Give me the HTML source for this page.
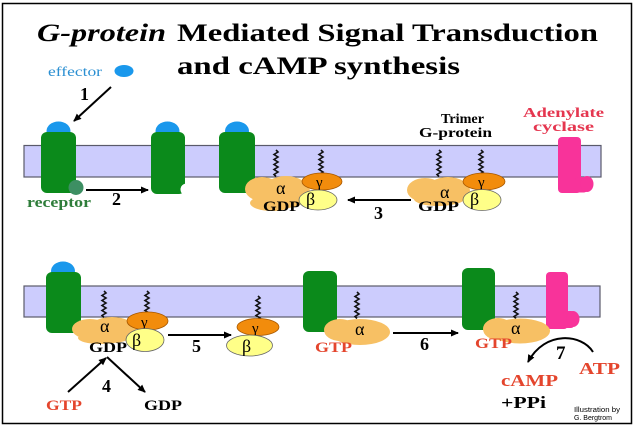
<!DOCTYPE html>
<html><head><meta charset="utf-8"><style>
html,body{margin:0;padding:0;background:#fff;}
svg{display:block;}
text{font-family:"Liberation Serif","DejaVu Serif",serif;}
</style></head><body>
<svg width="636" height="429" viewBox="0 0 636 429" xmlns="http://www.w3.org/2000/svg" font-family="Liberation Serif, serif">
<defs>
<marker id="ah" markerWidth="8" markerHeight="8" refX="7" refY="4" orient="auto" markerUnits="userSpaceOnUse">
<path d="M0,0.5 L8,4 L0,7.5 Z" fill="#000"/>
</marker>
<path id="wv" d="M0 0 l2 2 l-4 2.5 l4 2.5 l-4 2.5 l4 2.5 l-4 2.5 l4 2.5 l-4 2.5 l4 2.5 l-4 2.5 l2 2" fill="none" stroke="#111" stroke-width="1.6"/>
</defs>
<rect x="0" y="0" width="636" height="429" fill="#fff"/>
<rect x="2.5" y="3.5" width="629" height="420" fill="none" stroke="#000" stroke-width="1.5"/>

<!-- Title -->
<text x="37" y="41" font-size="25" font-weight="bold" font-style="italic" textLength="129" lengthAdjust="spacingAndGlyphs">G-protein</text>
<text x="177" y="41" font-size="25" font-weight="bold" textLength="421" lengthAdjust="spacingAndGlyphs">Mediated Signal Transduction</text>
<text x="177" y="74" font-size="25" font-weight="bold" textLength="283" lengthAdjust="spacingAndGlyphs">and cAMP synthesis</text>

<!-- effector -->
<text x="48" y="76" font-size="14" fill="#2a8fd2" textLength="54" lengthAdjust="spacingAndGlyphs">effector</text>
<ellipse cx="124" cy="71" rx="9.5" ry="6" fill="#1a98ec"/>
<line x1="111" y1="87" x2="74" y2="121" stroke="#000" stroke-width="2" marker-end="url(#ah)"/>
<text x="80" y="100" font-size="18" font-weight="bold">1</text>

<!-- Membranes -->
<rect x="24" y="145.5" width="577" height="31.5" fill="#ccccfd" stroke="#5a5a6a" stroke-width="1.2"/>
<rect x="24" y="286" width="576" height="31" fill="#ccccfd" stroke="#5a5a6a" stroke-width="1.2"/>

<!-- wavy anchors top -->
<use href="#wv" x="276" y="150"/>
<use href="#wv" x="321" y="150"/>
<use href="#wv" x="439" y="150"/>
<use href="#wv" x="481" y="150"/>
<!-- wavy anchors bottom -->
<use href="#wv" x="104" y="291"/>
<use href="#wv" x="147" y="291"/>
<use href="#wv" x="258" y="296"/>
<use href="#wv" x="357" y="292"/>
<use href="#wv" x="516" y="292"/>

<!-- Top receptors -->
<ellipse cx="58.5" cy="131" rx="12" ry="9.5" fill="#1a98ec"/>
<rect x="41" y="132" width="35" height="61" rx="6" fill="#0b8a1b"/>
<circle cx="76" cy="187.5" r="7.5" fill="#3d8f63"/>
<text x="27" y="207" font-size="15" font-weight="bold" fill="#2e7d3a" textLength="64" lengthAdjust="spacingAndGlyphs">receptor</text>
<line x1="86" y1="190" x2="148" y2="190" stroke="#000" stroke-width="2" marker-end="url(#ah)"/>
<text x="112" y="205" font-size="18" font-weight="bold">2</text>

<ellipse cx="167.5" cy="131" rx="12" ry="9.5" fill="#1a98ec"/>
<rect x="151" y="132" width="34" height="62" rx="6" fill="#0b8a1b"/>
<circle cx="186.5" cy="189.5" r="6" fill="#fff"/>

<ellipse cx="237" cy="131" rx="12" ry="9.5" fill="#1a98ec"/>
<rect x="219" y="132" width="36" height="61" rx="6" fill="#0b8a1b"/>

<!-- Complex A -->
<g fill="#f7c064">
<ellipse cx="262" cy="189" rx="17" ry="12"/>
<ellipse cx="286" cy="192" rx="24" ry="16"/>
<ellipse cx="272" cy="203" rx="22" ry="8"/>
</g>
<text x="276" y="194" font-size="18">α</text>
<text x="263" y="211" font-size="15" font-weight="bold" textLength="37" lengthAdjust="spacingAndGlyphs">GDP</text>
<ellipse cx="322" cy="181.5" rx="20" ry="8.5" fill="#f28c0c" stroke="#a85800" stroke-width="0.8"/>
<text x="316" y="187" font-size="15">γ</text>
<ellipse cx="318" cy="200" rx="19" ry="10" fill="#ffff88" stroke="#666" stroke-width="0.8"/>
<text x="306" y="205" font-size="18">β</text>

<!-- arrow 3 -->
<line x1="411" y1="200" x2="348" y2="200" stroke="#000" stroke-width="2" marker-end="url(#ah)"/>
<text x="374" y="219" font-size="18" font-weight="bold">3</text>

<!-- Trimer label -->
<text x="441" y="123" font-size="14" font-weight="bold" textLength="43" lengthAdjust="spacingAndGlyphs">Trimer</text>
<text x="419" y="137" font-size="14" font-weight="bold" textLength="73" lengthAdjust="spacingAndGlyphs">G-protein</text>

<!-- Complex B -->
<g fill="#f7c064">
<ellipse cx="425" cy="190" rx="18" ry="12"/>
<ellipse cx="448" cy="191" rx="22" ry="14"/>
<ellipse cx="438" cy="199" rx="24" ry="7"/>
</g>
<text x="440" y="198" font-size="18">α</text>
<text x="418" y="211" font-size="15" font-weight="bold" textLength="41" lengthAdjust="spacingAndGlyphs">GDP</text>
<ellipse cx="484" cy="181.5" rx="21" ry="8.5" fill="#f28c0c" stroke="#a85800" stroke-width="0.8"/>
<text x="478" y="187" font-size="15">γ</text>
<ellipse cx="482" cy="200" rx="19" ry="10.5" fill="#ffff88" stroke="#666" stroke-width="0.8"/>
<text x="470" y="205" font-size="18">β</text>

<!-- Adenylate cyclase top -->
<text x="523" y="117" font-size="14" font-weight="bold" fill="#e5364f" textLength="81" lengthAdjust="spacingAndGlyphs">Adenylate</text>
<text x="533" y="131" font-size="14" font-weight="bold" fill="#e5364f" textLength="61" lengthAdjust="spacingAndGlyphs">cyclase</text>
<g fill="#f8339a">
<rect x="558" y="137" width="23" height="56" rx="4"/>
<rect x="575" y="177" width="12" height="15.5" rx="3"/>
<ellipse cx="587" cy="184" rx="6.5" ry="8"/>
</g>

<!-- Bottom row receptor R4 -->
<ellipse cx="63" cy="271" rx="12" ry="9.5" fill="#1a98ec"/>
<rect x="46" y="272" width="35" height="61" rx="6" fill="#0b8a1b"/>

<!-- Complex C -->
<g fill="#f7c064">
<ellipse cx="90" cy="329" rx="18" ry="10"/>
<ellipse cx="112" cy="330" rx="24" ry="13"/>
<ellipse cx="100" cy="338" rx="22" ry="6"/>
</g>
<text x="100" y="332" font-size="18">α</text>
<text x="89" y="352" font-size="15" font-weight="bold" textLength="38" lengthAdjust="spacingAndGlyphs">GDP</text>
<ellipse cx="147.5" cy="321" rx="20.5" ry="9" fill="#f28c0c" stroke="#a85800" stroke-width="0.8"/>
<text x="141" y="327" font-size="15">γ</text>
<ellipse cx="145" cy="340" rx="19" ry="11.5" fill="#ffff88" stroke="#666" stroke-width="0.8"/>
<text x="132" y="346" font-size="18">β</text>

<!-- arrow 4 -->
<line x1="68" y1="392" x2="106" y2="358" stroke="#000" stroke-width="2" marker-end="url(#ah)"/>
<line x1="107" y1="357" x2="145" y2="392" stroke="#000" stroke-width="2" marker-end="url(#ah)"/>
<text x="102" y="392" font-size="18" font-weight="bold">4</text>
<text x="46" y="410" font-size="15" font-weight="bold" fill="#e4452d" textLength="36" lengthAdjust="spacingAndGlyphs">GTP</text>
<text x="144" y="410" font-size="15" font-weight="bold" textLength="38" lengthAdjust="spacingAndGlyphs">GDP</text>

<!-- arrow 5 -->
<line x1="168" y1="335" x2="231" y2="335" stroke="#000" stroke-width="2" marker-end="url(#ah)"/>
<text x="192" y="352" font-size="18" font-weight="bold">5</text>

<!-- dimer D -->
<ellipse cx="258" cy="327" rx="21" ry="8.5" fill="#f28c0c" stroke="#a85800" stroke-width="0.8"/>
<text x="252" y="333" font-size="15">γ</text>
<ellipse cx="249.5" cy="345.5" rx="23" ry="10.5" fill="#ffff88" stroke="#666" stroke-width="0.8"/>
<text x="242" y="352" font-size="18">β</text>

<!-- R5 -->
<rect x="303" y="271" width="34" height="61" rx="6" fill="#0b8a1b"/>
<g fill="#f7c064">
<ellipse cx="340" cy="330" rx="16" ry="11"/>
<ellipse cx="360" cy="332" rx="30" ry="13"/>
</g>
<text x="355" y="335" font-size="18">α</text>
<text x="315" y="352" font-size="15" font-weight="bold" fill="#e4452d" textLength="37" lengthAdjust="spacingAndGlyphs">GTP</text>

<!-- arrow 6 -->
<line x1="393" y1="333" x2="458" y2="333" stroke="#000" stroke-width="2" marker-end="url(#ah)"/>
<text x="420" y="350" font-size="18" font-weight="bold">6</text>

<!-- R6 -->
<rect x="462" y="268" width="33" height="62" rx="6" fill="#0b8a1b"/>
<!-- pink bottom -->
<g fill="#f8339a">
<rect x="546" y="272" width="22" height="57" rx="4"/>
<rect x="563" y="311" width="11" height="17" rx="3"/>
<ellipse cx="573" cy="319" rx="6.5" ry="8"/>
</g>
<g fill="#f7c064">
<ellipse cx="498" cy="329" rx="15" ry="11"/>
<ellipse cx="520" cy="331" rx="30" ry="12.5"/>
</g>
<text x="511" y="334" font-size="18">α</text>
<text x="475" y="348" font-size="15" font-weight="bold" fill="#e4452d" textLength="37" lengthAdjust="spacingAndGlyphs">GTP</text>

<!-- arrow 7 -->
<path d="M593,352 C582,334 545,330 528,362" fill="none" stroke="#000" stroke-width="2" marker-end="url(#ah)"/>
<text x="556" y="359" font-size="19" font-weight="bold">7</text>
<text x="579" y="374" font-size="17" font-weight="bold" fill="#e4452d" textLength="41" lengthAdjust="spacingAndGlyphs">ATP</text>
<text x="501" y="386" font-size="17" font-weight="bold" fill="#e4452d" textLength="57" lengthAdjust="spacingAndGlyphs">cAMP</text>
<text x="501" y="408" font-size="17" font-weight="bold" textLength="45" lengthAdjust="spacingAndGlyphs">+PPi</text>

<text x="574" y="412" font-size="7" style="font-family:'Liberation Sans',sans-serif" textLength="46" lengthAdjust="spacingAndGlyphs">Illustration by</text>
<text x="574" y="420" font-size="7" style="font-family:'Liberation Sans',sans-serif" textLength="38" lengthAdjust="spacingAndGlyphs">G. Bergtrom</text>
</svg>
</body></html>
